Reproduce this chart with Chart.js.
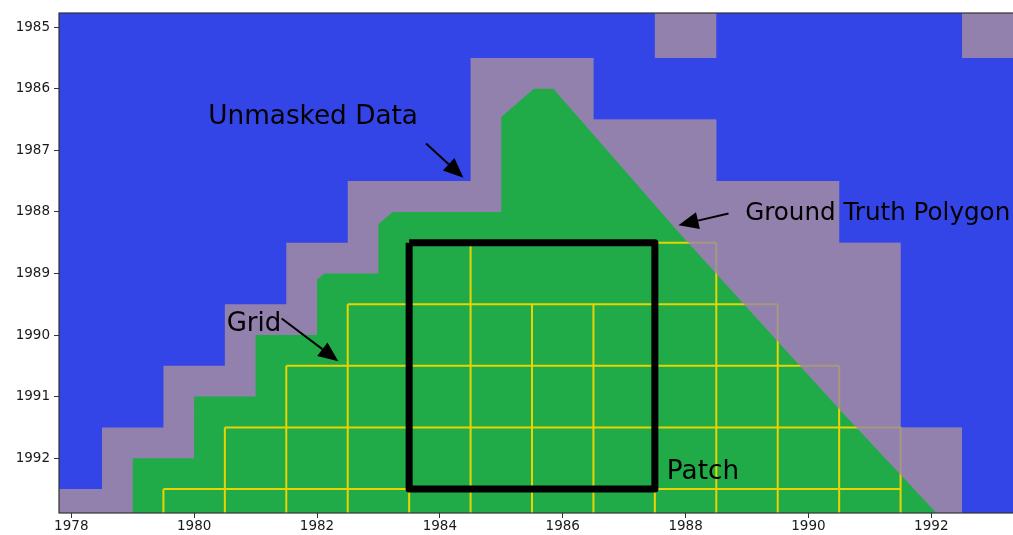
<!DOCTYPE html>
<html><head><meta charset="utf-8">
<script src="https://cdn.jsdelivr.net/npm/chart.js@4.4.0/dist/chart.umd.min.js"></script>
<style>html,body{margin:0;padding:0;background:#fff;}#wrap{width:1013px;height:535px;}</style>
</head><body><div id="wrap"><canvas id="c" width="1013" height="535"></canvas></div>
<script>
// ---- axes ----
const xTicks = [1978, 1980, 1982, 1984, 1986, 1988, 1990, 1992];
const yTicks = [1985, 1986, 1987, 1988, 1989, 1990, 1991, 1992];
const xRange = [1977.8, 1993.33];
const yRange = [1984.77, 1992.89];

// ---- unmasked data cells (row year, first column, last column) ----
const unmaskedRowYear = [1986, 1987, 1988, 1989, 1990, 1991, 1992, 1993];
const unmaskedFromCol = [1985, 1985, 1983, 1982, 1981, 1980, 1979, 1977];
const unmaskedToCol   = [1986, 1988, 1990, 1991, 1991, 1991, 1992, 1992];
const isolatedCellX = [1988, 1993];
const isolatedCellY = [1985, 1985];

// ---- ground truth polygon ----
const polyStepX = [1979, 1979, 1980, 1980, 1981, 1981, 1982, 1982, 1982.12, 1983, 1983, 1983.23, 1985, 1985, 1985.53];
const polyStepY = [1993.5, 1992, 1992, 1991, 1991, 1990, 1990, 1989.1, 1989, 1989, 1988.2, 1988, 1988, 1986.46, 1986];
const polyDiagX = [1985.85, 1987.86, 1990.52, 1992.04, 1992.66];
const polyDiagY = [1986, 1988.3, 1991.22, 1992.84, 1993.5];

// ---- grid ----
const gridHY    = [1988.5, 1989.5, 1990.5, 1991.5, 1992.5];
const gridHFrom = [1983.5, 1982.5, 1981.5, 1980.5, 1979.5];
const gridHTo   = [1988.5, 1989.5, 1990.5, 1991.5, 1991.5];
const gridVX    = [1979.5, 1980.5, 1981.5, 1982.5, 1983.5, 1984.5, 1985.5, 1986.5, 1987.5, 1988.5, 1989.5, 1990.5, 1991.5];
const gridVFrom = [1992.5, 1991.5, 1990.5, 1989.5, 1988.5, 1988.5, 1989.5, 1989.5, 1988.5, 1988.5, 1989.5, 1990.5, 1991.5];
const gridVTo = 1993.5;

// ---- patch ----
const patchX = [1983.5, 1987.5, 1987.5, 1983.5, 1983.5];
const patchY = [1988.5, 1988.5, 1992.5, 1992.5, 1988.5];

// ---- annotations ----
const noteText = ['Unmasked Data', 'Ground Truth Polygon', 'Grid', 'Patch'];
const noteX = [1980.23, 1988.97, 1980.53, 1987.695];
const noteY = [1986.58, 1988.13, 1989.93, 1992.33];
const arrowTailX = [1983.775, 1988.699, 1981.425];
const arrowTailY = [1986.889, 1988.026, 1989.731];
const arrowTipX  = [1984.383, 1987.884, 1982.347];
const arrowTipY  = [1987.447, 1988.216, 1990.425];

// ---- styles ----
const BLUE = '#3445E8', PURPLE = '#9181AC', GREEN = '#21AA48', YELLOW = '#E8D400';
const NOTE_FONT_PX = [26.3, 24.6, 26, 26.3];

function pts(xs, ys) { return xs.map((x, i) => ({x: x, y: ys[i]})); }

// union polygon of unmasked rows
const rightSide = [], leftSide = [];
unmaskedRowYear.forEach((r, i) => {
  rightSide.push({x: unmaskedToCol[i] + 0.5, y: r - 0.5}, {x: unmaskedToCol[i] + 0.5, y: r + 0.5});
  leftSide.push({x: unmaskedFromCol[i] - 0.5, y: r - 0.5}, {x: unmaskedFromCol[i] - 0.5, y: r + 0.5});
});
const unmaskedPoly = rightSide.concat(leftSide.slice().reverse());

const datasets = [];
function shape(data, color, order) {
  datasets.push({data: data, showLine: true, fill: 'shape', backgroundColor: color,
    borderWidth: 0, pointRadius: 0, order: order});
}
function stroke(data, color, width, order, join) {
  datasets.push({data: data, showLine: true, fill: false, borderColor: color,
    borderWidth: width, pointRadius: 0, order: order, borderJoinStyle: join || 'miter', borderCapStyle: 'butt'});
}

shape(unmaskedPoly, PURPLE, 10);
isolatedCellX.forEach((cx, i) => {
  const cy = isolatedCellY[i];
  shape([{x: cx - 0.5, y: cy - 0.5}, {x: cx + 0.5, y: cy - 0.5}, {x: cx + 0.5, y: cy + 0.5}, {x: cx - 0.5, y: cy + 0.5}], PURPLE, 10);
});
shape(pts(polyStepX, polyStepY).concat(pts(polyDiagX, polyDiagY)), GREEN, 9);
gridHY.forEach((y, i) => stroke([{x: gridHFrom[i], y: y}, {x: gridHTo[i], y: y}], YELLOW, 2, 8));
gridVX.forEach((x, i) => stroke([{x: x, y: gridVFrom[i]}, {x: x, y: gridVTo}], YELLOW, 2, 8));
// purple veil over the grid outside the polygon
const veil = pts(polyDiagX, polyDiagY).concat(rightSide.slice().reverse());
shape(veil, 'rgba(145,129,172,0.75)', 7);
stroke(pts(patchX, patchY), '#000', 7, 6, 'round');

const bgPlugin = {
  id: 'bg',
  beforeDatasetsDraw(chart) {
    const a = chart.chartArea, ctx = chart.ctx;
    ctx.save(); ctx.fillStyle = BLUE; ctx.fillRect(a.left, a.top, a.right - a.left, a.bottom - a.top); ctx.restore();
  },
  afterDatasetsDraw(chart) {
    const ctx = chart.ctx, xs = chart.scales.x, ys = chart.scales.y;
    ctx.save();
    ctx.fillStyle = '#000'; ctx.strokeStyle = '#000';
    ctx.textBaseline = 'alphabetic'; ctx.textAlign = 'left';
    noteText.forEach((t, i) => {
      ctx.font = NOTE_FONT_PX[i] + 'px "DejaVu Sans"';
      ctx.fillText(t, xs.getPixelForValue(noteX[i]), ys.getPixelForValue(noteY[i]));
    });
    arrowTailX.forEach((tx, i) => {
      const x0 = xs.getPixelForValue(tx), y0 = ys.getPixelForValue(arrowTailY[i]);
      const x1 = xs.getPixelForValue(arrowTipX[i]), y1 = ys.getPixelForValue(arrowTipY[i]);
      const ang = Math.atan2(y1 - y0, x1 - x0), hl = 20, hw = 8.5;
      const bx = x1 - hl * Math.cos(ang), by = y1 - hl * Math.sin(ang);
      ctx.lineWidth = 2; ctx.beginPath(); ctx.moveTo(x0, y0); ctx.lineTo(bx, by); ctx.stroke();
      ctx.beginPath(); ctx.moveTo(x1, y1);
      ctx.lineTo(bx + hw * Math.sin(ang), by - hw * Math.cos(ang));
      ctx.lineTo(bx - hw * Math.sin(ang), by + hw * Math.cos(ang));
      ctx.closePath(); ctx.fill();
    });
    ctx.restore();
  },
  afterDraw(chart) {
    const a = chart.chartArea, ctx = chart.ctx;
    ctx.save(); ctx.strokeStyle = '#333'; ctx.lineWidth = 1.2;
    ctx.strokeRect(a.left, a.top, a.right - a.left + 2, a.bottom - a.top);
    ctx.restore();
  }
};

const tickFont = {family: 'DejaVu Sans', size: 13.5};
new Chart(document.getElementById('c'), {
  type: 'line',
  data: {datasets: datasets},
  plugins: [bgPlugin],
  options: {
    responsive: false, animation: false, devicePixelRatio: 1,
    layout: {padding: {top: 13, left: 0, right: 0, bottom: 0}},
    plugins: {legend: {display: false}, tooltip: {enabled: false}},
    elements: {line: {tension: 0}},
    scales: {
      x: {type: 'linear', min: xRange[0], max: xRange[1],
        afterBuildTicks: s => { s.ticks = xTicks.map(v => ({value: v})); },
        afterFit: s => { s.height = 22; },
        grid: {display: true, drawOnChartArea: false, drawTicks: true, tickLength: 5, color: '#333'},
        border: {display: false},
        ticks: {font: tickFont, color: '#1a1a1a', padding: 0, maxRotation: 0, autoSkip: false, callback: v => String(v)}},
      y: {type: 'linear', reverse: true, min: yRange[0], max: yRange[1],
        afterBuildTicks: s => { s.ticks = yTicks.map(v => ({value: v})); },
        afterFit: s => { s.width = 59; },
        grid: {display: true, drawOnChartArea: false, drawTicks: true, tickLength: 5, color: '#333'},
        border: {display: false},
        ticks: {font: tickFont, color: '#1a1a1a', padding: 4, autoSkip: false, callback: v => String(v)}}
    }
  }
});
</script></body></html>
